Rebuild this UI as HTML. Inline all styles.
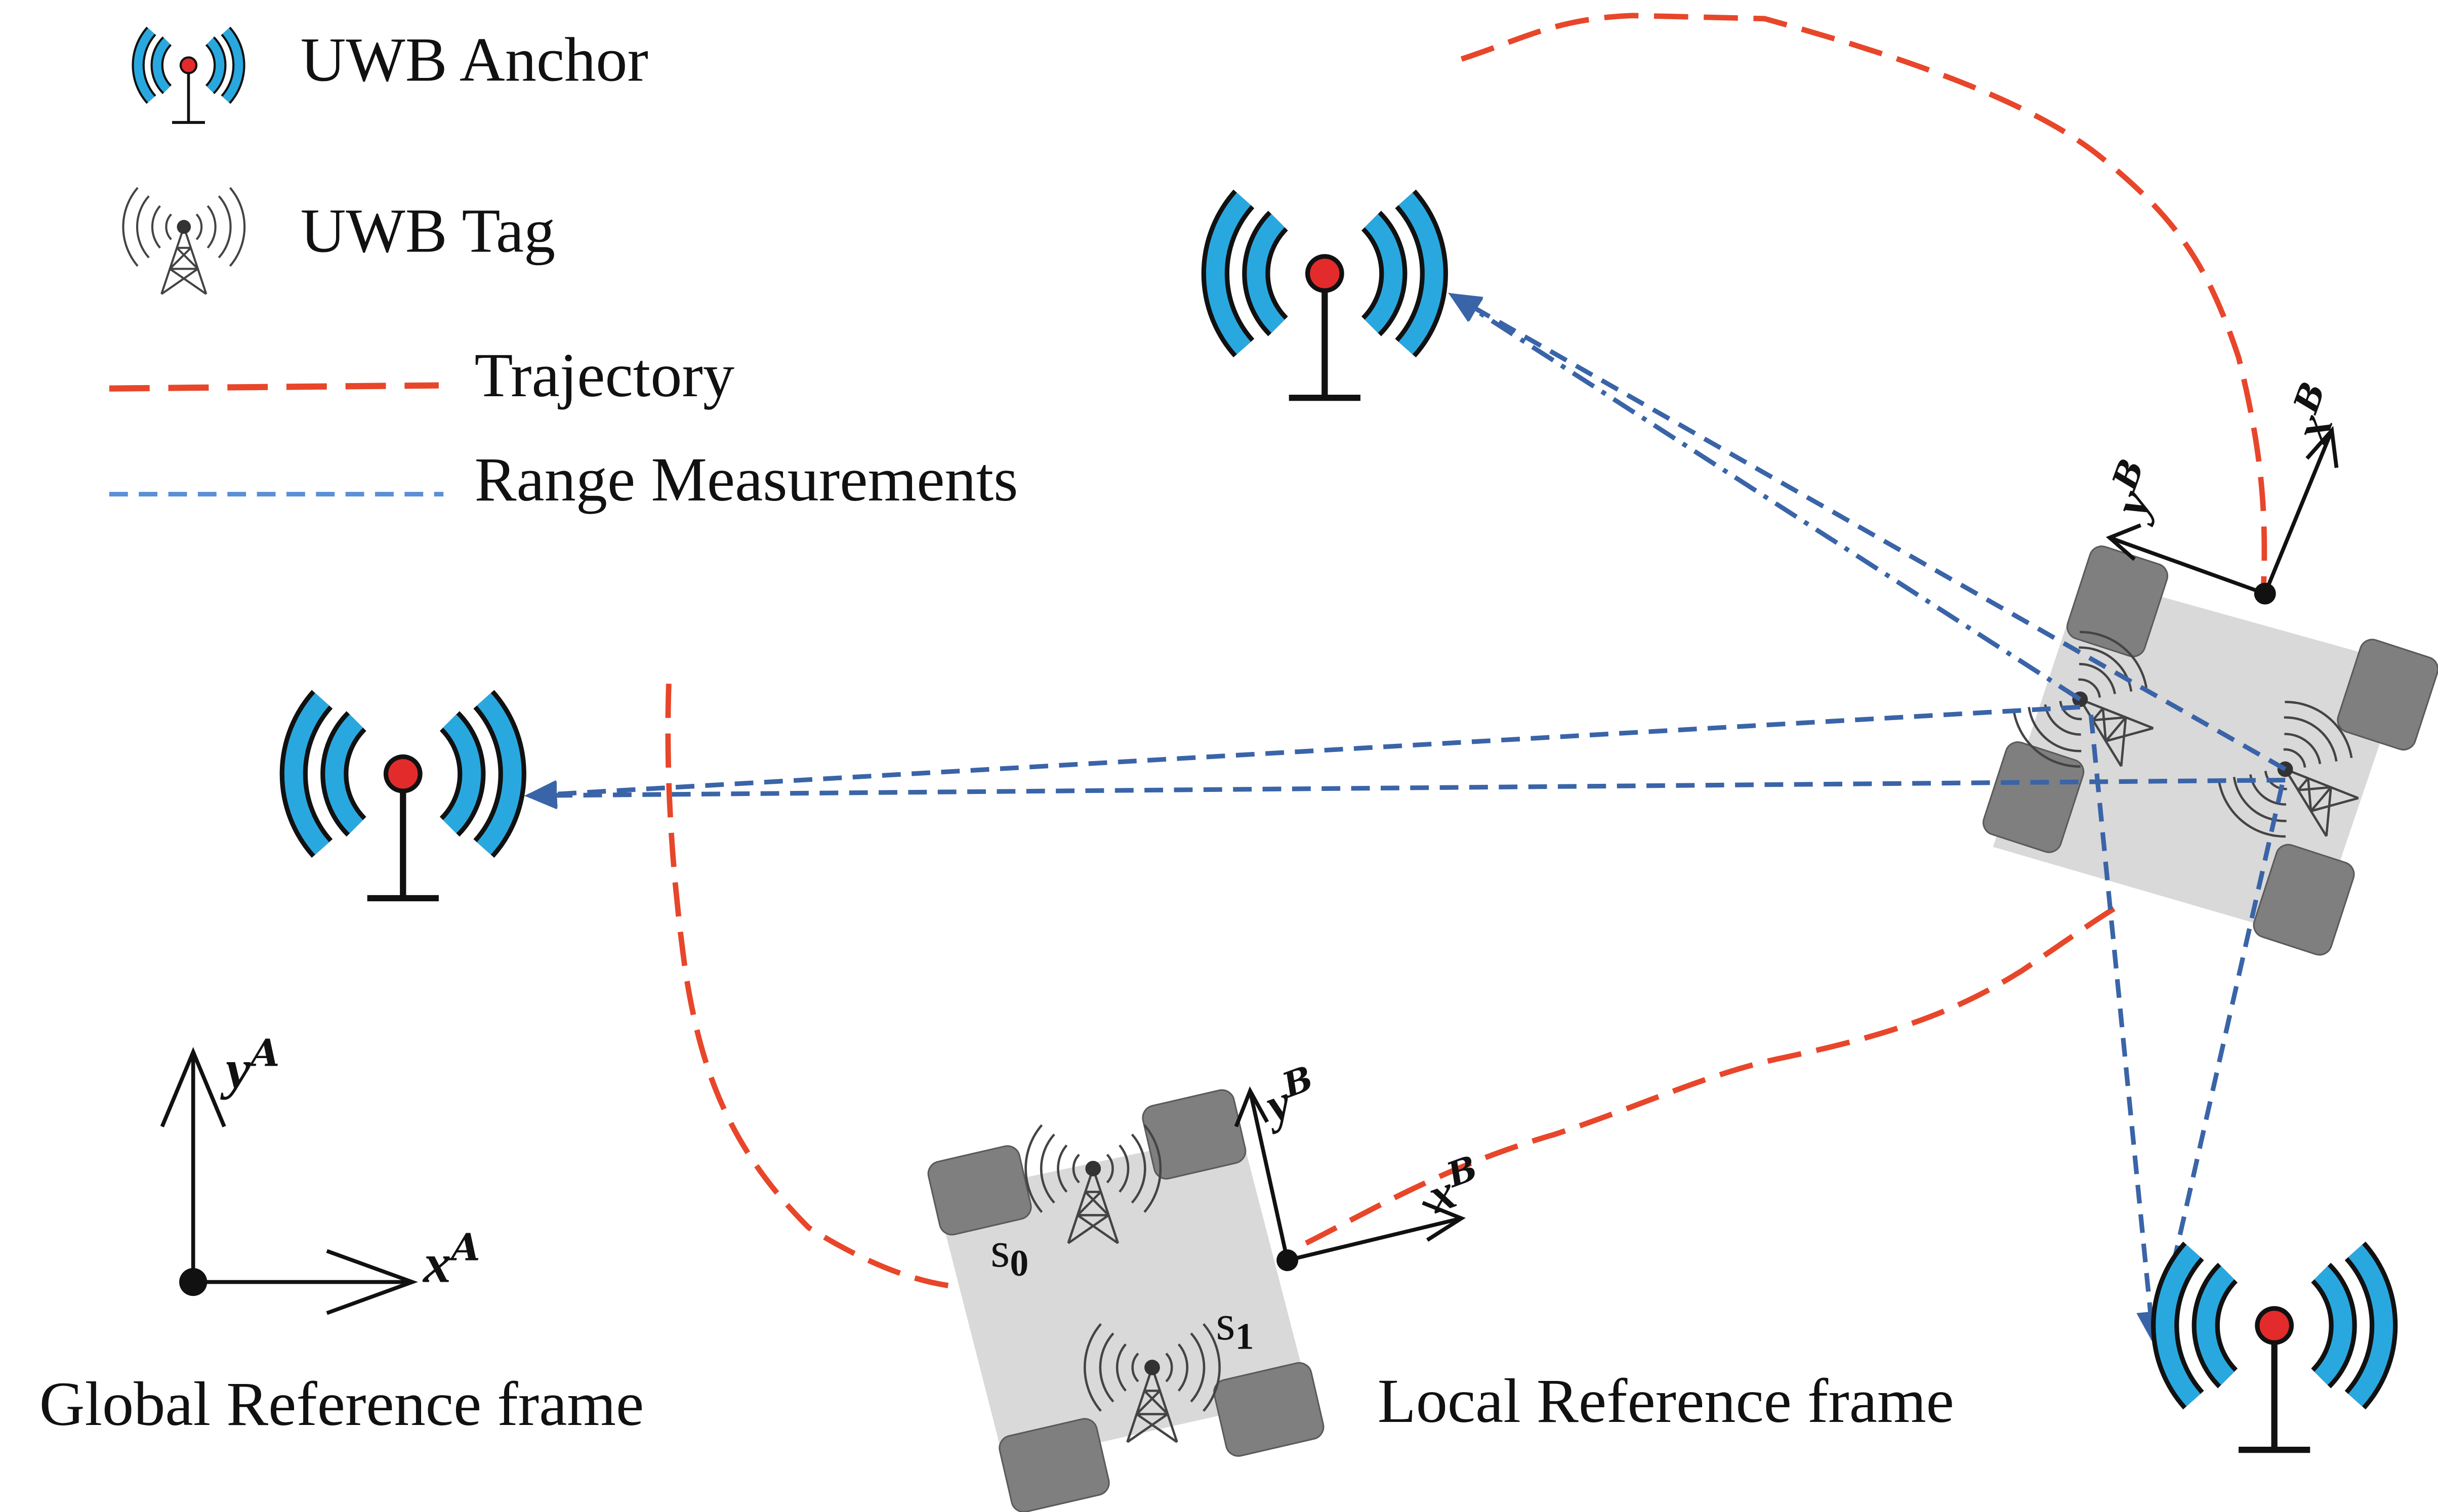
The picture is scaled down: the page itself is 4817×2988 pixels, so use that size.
<!DOCTYPE html>
<html><head><meta charset="utf-8">
<style>
html,body{margin:0;padding:0;background:#fff;}
svg{display:block;}
text{font-family:"Liberation Serif",serif;fill:#111;}
</style></head>
<body>
<svg width="4817" height="2988" viewBox="0 0 1568 973" xmlns="http://www.w3.org/2000/svg">
<defs>
  <g id="anchor">
    <line x1="0" y1="0" x2="0" y2="80" stroke="#111" stroke-width="4"/>
    <line x1="-23" y1="80" x2="23" y2="80" stroke="#111" stroke-width="4"/>
    <g fill="none" stroke-linecap="butt">
      <path d="M-30,-34 A48,48 0 0,0 -30,34" stroke="#111" stroke-width="18"/>
      <path d="M-30,-34 A48,48 0 0,0 -30,34" stroke="#29a8e0" stroke-width="12"/>
      <path d="M30,-34 A48,48 0 0,1 30,34" stroke="#111" stroke-width="18"/>
      <path d="M30,-34 A48,48 0 0,1 30,34" stroke="#29a8e0" stroke-width="12"/>
      <path d="M-52,-48 A72,72 0 0,0 -52,48" stroke="#111" stroke-width="18"/>
      <path d="M-52,-48 A72,72 0 0,0 -52,48" stroke="#29a8e0" stroke-width="12"/>
      <path d="M52,-48 A72,72 0 0,1 52,48" stroke="#111" stroke-width="18"/>
      <path d="M52,-48 A72,72 0 0,1 52,48" stroke="#29a8e0" stroke-width="12"/>
    </g>
    <circle cx="0" cy="0" r="11" fill="#e32b2b" stroke="#111" stroke-width="3"/>
  </g>
  <g id="tag">
    <g fill="none" stroke="#444" stroke-width="1.5">
      <path d="M-9,-9 A13,13 0 0,0 -9,9"/><path d="M9,-9 A13,13 0 0,1 9,9"/>
      <path d="M-17,-15 A23,23 0 0,0 -17,15"/><path d="M17,-15 A23,23 0 0,1 17,15"/>
      <path d="M-25,-22 A33,33 0 0,0 -25,22"/><path d="M25,-22 A33,33 0 0,1 25,22"/>
      <path d="M-33,-28 A43,43 0 0,0 -33,28"/><path d="M33,-28 A43,43 0 0,1 33,28"/>
      <path d="M0,0 L-16,48 M0,0 L16,48 M-5,15 L5,15 M-10,30 L10,30 M-5,15 L10,30 M5,15 L-10,30 M-10,30 L16,48 M10,30 L-16,48"/>
    </g>
    <circle cx="0" cy="0" r="5" fill="#333"/>
  </g>
  <marker id="arrB" markerWidth="8" markerHeight="8" refX="6" refY="4" orient="auto"><path d="M0,1 L7,4 L0,7 Z" fill="#3a64a8"/></marker>
</defs>

<!-- Legend -->
<g>
  <g transform="translate(121,42) scale(0.46)"><use href="#anchor"/></g>
  <text x="193" y="52" font-size="40.5">UWB Anchor</text>
  <g transform="translate(118,146) scale(0.9)"><use href="#tag"/></g>
  <text x="193" y="162" font-size="40.5">UWB Tag</text>
  <line x1="70" y1="250" x2="282" y2="248" stroke="#e8462a" stroke-width="4" stroke-dasharray="26,12"/>
  <text x="305" y="255" font-size="40.5">Trajectory</text>
  <line x1="70" y1="318" x2="285" y2="318" stroke="#5b8fd6" stroke-width="3" stroke-dasharray="12,7"/>
  <text x="305" y="322" font-size="40.5">Range Measurements</text>
</g>

<!-- Trajectory -->
<g fill="none" stroke="#e8462a" stroke-width="3.5" stroke-dasharray="22,10">
  <path d="M940,38 C980,25 1000,12 1050,10 L1135,12 C1200,30 1300,60 1350,100 C1400,140 1420,170 1440,230 C1455,290 1458,330 1456,380"/>
  <path d="M430,440 C428,500 432,560 440,620 C450,690 470,740 520,790 C560,815 590,825 615,828"/>
  <path d="M840,800 C880,780 930,750 1000,730 C1060,710 1100,690 1150,680 C1220,665 1260,650 1300,625 C1330,605 1350,590 1368,580"/>
</g>

<!-- Robot 1 -->
<g>
  <polygon points="602,770 798,728 842,898 646,942" fill="#d9d9d9"/>
  <rect x="600" y="742" width="60" height="48" rx="8" fill="#7f7f7f" stroke="#5a5a5a" transform="rotate(-13 630 766)"/>
  <rect x="738" y="706" width="60" height="48" rx="8" fill="#7f7f7f" stroke="#5a5a5a" transform="rotate(-13 768 730)"/>
  <rect x="646" y="918" width="64" height="50" rx="8" fill="#7f7f7f" stroke="#5a5a5a" transform="rotate(-13 678 943)"/>
  <rect x="784" y="882" width="64" height="50" rx="8" fill="#7f7f7f" stroke="#5a5a5a" transform="rotate(-13 816 907)"/>
  <g transform="translate(703,752)"><use href="#tag"/></g>
  <g transform="translate(741,880)"><use href="#tag"/></g>
  <text x="637" y="815" font-size="32" font-family="DejaVu Sans, sans-serif">s<tspan font-size="24" dy="6" font-weight="bold">0</tspan></text>
  <text x="782" y="862" font-size="32" font-family="DejaVu Sans, sans-serif">s<tspan font-size="24" dy="6" font-weight="bold">1</tspan></text>
  <line x1="828" y1="811" x2="940" y2="784" stroke="#111" stroke-width="2.5"/>
  <path d="M915,774 L940,784 L918,798" fill="none" stroke="#111" stroke-width="2.5"/>
  <line x1="828" y1="811" x2="804" y2="702" stroke="#111" stroke-width="2.5"/>
  <path d="M795,725 L804,702 L815,722" fill="none" stroke="#111" stroke-width="2.5"/>
  <circle cx="828" cy="811" r="7" fill="#111"/>
  <text x="920" y="778" font-size="32" font-style="italic" font-weight="bold" transform="rotate(-20 930 770)">x<tspan font-size="22" dy="-12" font-family="DejaVu Serif, serif">B</tspan></text>
  <text x="816" y="720" font-size="32" font-style="italic" font-weight="bold" transform="rotate(-20 825 712)">y<tspan font-size="22" dy="-12" font-family="DejaVu Serif, serif">B</tspan></text>
</g>

<!-- Robot 2 -->
<g>
  <polygon points="1340,370 1548,428 1488,605 1282,545" fill="#d9d9d9"/>
  <rect x="1336" y="356" width="52" height="62" rx="8" fill="#7f7f7f" stroke="#5a5a5a" transform="rotate(18 1362 387)"/>
  <rect x="1510" y="416" width="52" height="62" rx="8" fill="#7f7f7f" stroke="#5a5a5a" transform="rotate(18 1536 447)"/>
  <rect x="1282" y="482" width="52" height="62" rx="8" fill="#7f7f7f" stroke="#5a5a5a" transform="rotate(18 1308 513)"/>
  <rect x="1456" y="548" width="52" height="62" rx="8" fill="#7f7f7f" stroke="#5a5a5a" transform="rotate(18 1482 579)"/>
  <g transform="translate(1338,450) rotate(-50)"><use href="#tag"/></g>
  <g transform="translate(1470,495) rotate(-50)"><use href="#tag"/></g>
  <line x1="1457" y1="382" x2="1500" y2="277" stroke="#111" stroke-width="2.5"/>
  <path d="M1484,295 L1500,277 L1503,301" fill="none" stroke="#111" stroke-width="2.5"/>
  <line x1="1457" y1="382" x2="1357" y2="346" stroke="#111" stroke-width="2.5"/>
  <path d="M1377,338 L1357,346 L1373,360" fill="none" stroke="#111" stroke-width="2.5"/>
  <circle cx="1457" cy="382" r="7" fill="#111"/>
  <text x="1470" y="290" font-size="32" font-style="italic" font-weight="bold" transform="rotate(-70 1480 270)">x<tspan font-size="22" dy="-12" font-family="DejaVu Serif, serif">B</tspan></text>
  <text x="1352" y="335" font-size="32" font-style="italic" font-weight="bold" transform="rotate(-70 1365 315)">y<tspan font-size="22" dy="-12" font-family="DejaVu Serif, serif">B</tspan></text>
</g>

<!-- Range measurements -->
<g fill="none" stroke="#3a64a8" stroke-width="3">
  <line x1="1338" y1="450" x2="934" y2="190" stroke-dasharray="16,6,3,6" marker-end="url(#arrB)"/>
  <line x1="1470" y1="495" x2="934" y2="190" stroke-dasharray="12,7" marker-end="url(#arrB)"/>
  <line x1="1338" y1="455" x2="340" y2="512" stroke-dasharray="12,7" marker-end="url(#arrB)"/>
  <line x1="1470" y1="502" x2="340" y2="512" stroke-dasharray="12,7" marker-end="url(#arrB)"/>
  <line x1="1345" y1="460" x2="1385" y2="862" stroke-dasharray="12,7" marker-end="url(#arrB)"/>
  <line x1="1468" y1="505" x2="1387" y2="862" stroke-dasharray="12,7" marker-end="url(#arrB)"/>
</g>

<!-- Anchors -->
<g transform="translate(852,176)"><use href="#anchor"/></g>
<g transform="translate(259,498)"><use href="#anchor"/></g>
<g transform="translate(1463,853)"><use href="#anchor"/></g>

<!-- Global frame -->
<g stroke="#111" stroke-width="2.5" fill="none">
  <line x1="124" y1="825" x2="124" y2="677"/>
  <path d="M104,725 L124,677 L144,725"/>
  <line x1="124" y1="825" x2="265" y2="825"/>
  <path d="M210,805 L265,825 L210,845"/>
</g>
<circle cx="124" cy="825" r="9" fill="#111"/>
<text x="145" y="700" font-size="36" font-style="italic" font-weight="bold">y<tspan font-size="24" dy="-14" font-family="DejaVu Serif, serif">A</tspan></text>
<text x="272" y="825" font-size="36" font-style="italic" font-weight="bold">x<tspan font-size="24" dy="-14" font-family="DejaVu Serif, serif">A</tspan></text>
<text x="25" y="917" font-size="40.5">Global Reference frame</text>
<text x="886" y="915" font-size="40.5">Local Reference frame</text>
</svg>
</body></html>
